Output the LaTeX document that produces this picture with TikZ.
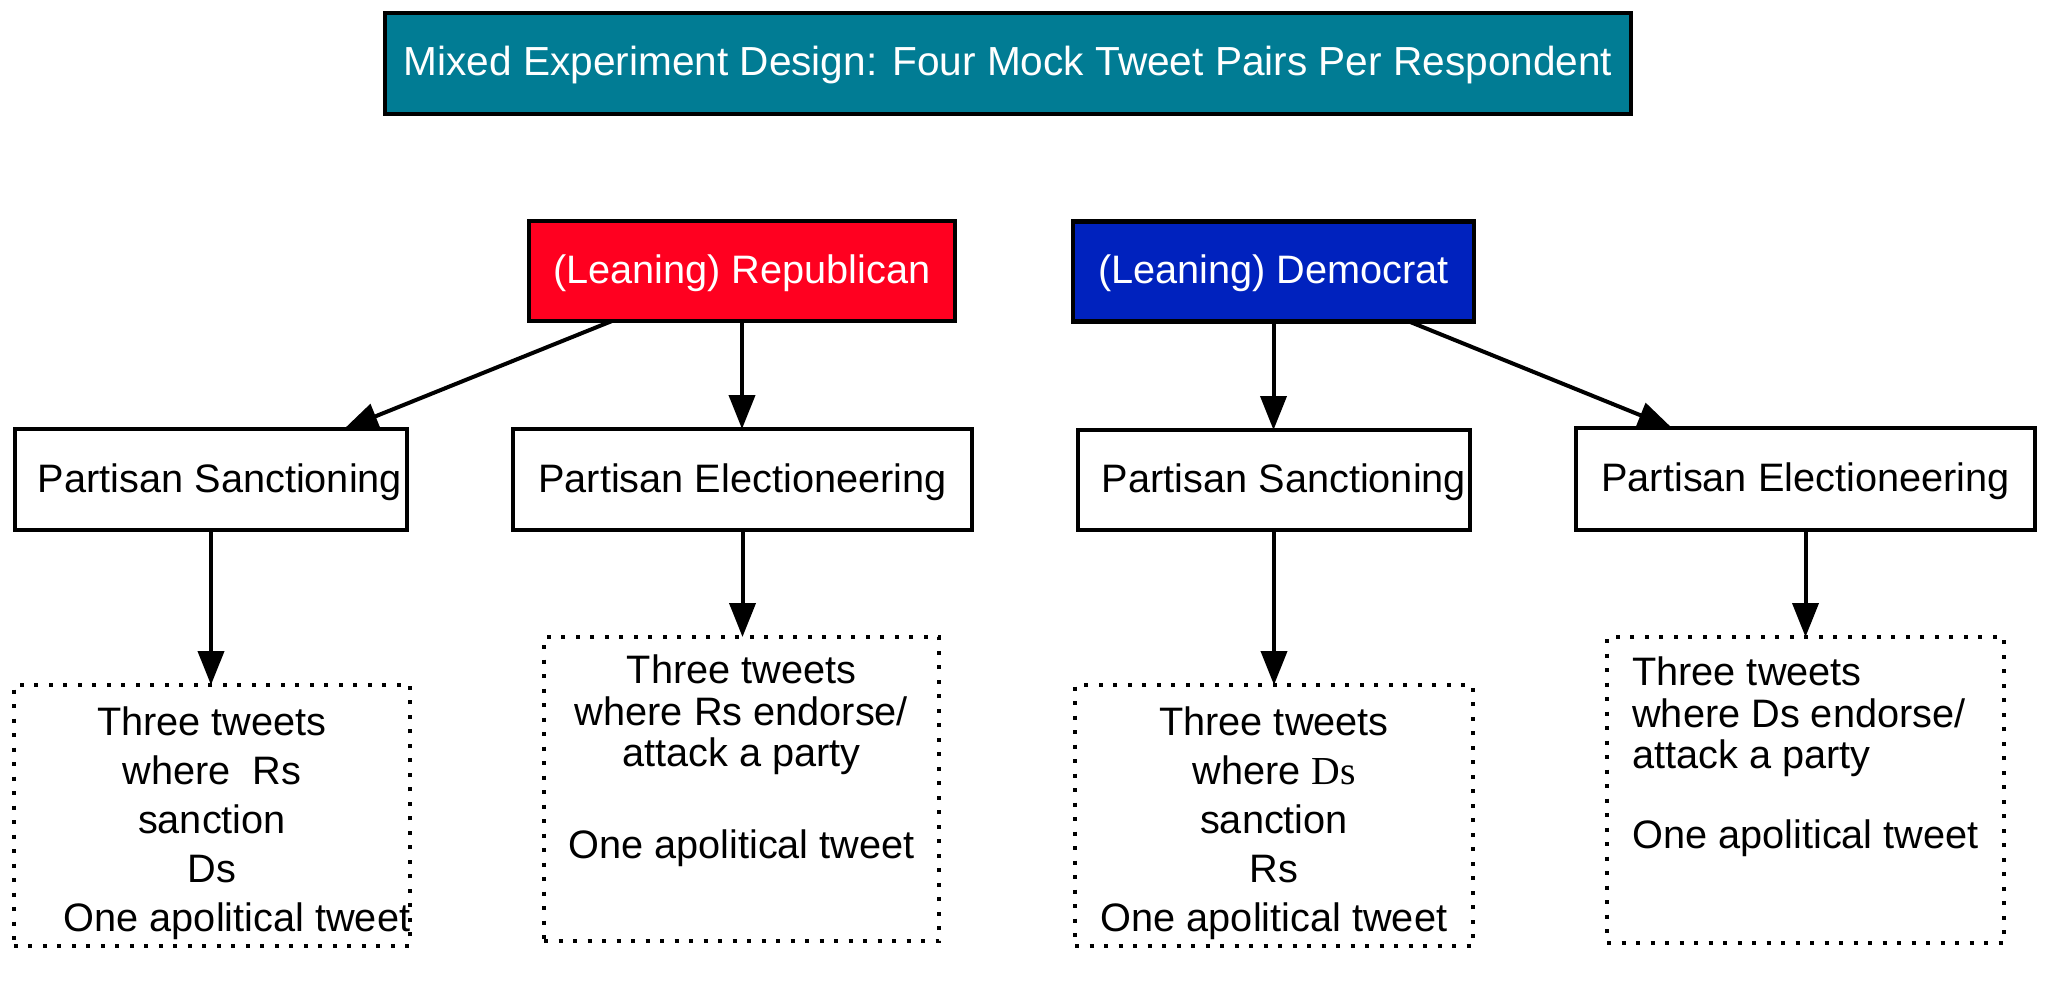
\documentclass[tikz,border=0pt]{standalone}
\usepackage{fontspec}
\setmainfont{Liberation Sans}
\newfontfamily\seriffam{Liberation Serif}
\usetikzlibrary{arrows.meta,calc}
\definecolor{titleteal}{RGB}{1,124,148}
\definecolor{repred}{RGB}{255,0,32}
\definecolor{demblue}{RGB}{0,34,190}
\begin{document}
\begin{tikzpicture}[x=1pt,y=-1pt,
  solidbox/.style={draw=black, line width=4.5pt, inner sep=0pt, outer sep=0pt,
    text height=29pt, text depth=4pt, font=\fontsize{39.7}{49}\selectfont},
  dotbox/.style={draw=black, line width=4.5pt, dash pattern=on 4pt off 10.5pt,
    inner sep=0pt, outer sep=0pt},
  conn/.style={line width=4pt, -{Triangle[length=34pt,width=26pt]}}
]
\useasboundingbox[fill=white] (0,0) rectangle (2048,1008);

\node[solidbox, fill=titleteal, text=white, minimum width=1246pt, minimum height=101pt,
  font=\fontsize{40.6}{49}\selectfont] (title) at (1008,63.5)
  {Mixed Experiment Design: Four Mock Tweet Pairs Per Respondent};

\node[solidbox, fill=repred, text=white, minimum width=426pt, minimum height=100pt] (rep) at (742,271)
  {(Leaning) Republican};
\node[solidbox, fill=demblue, text=white, minimum width=401pt, minimum height=100pt] (dem) at (1273.5,271.5)
  {(Leaning) Democrat};

\node[solidbox, fill=white, minimum width=392pt, minimum height=101pt] (ps1) at (211,479.5)
  {\hspace*{18pt}Partisan Sanctioning};
\node[solidbox, fill=white, minimum width=459pt, minimum height=101pt] (pe1) at (742.5,479.5)
  {Partisan Electioneering};
\node[solidbox, fill=white, minimum width=392pt, minimum height=100pt] (ps2) at (1274,480)
  {\hspace*{20pt}Partisan Sanctioning};
\node[solidbox, fill=white, minimum width=459pt, minimum height=102pt] (pe2) at (1805.5,479)
  {Partisan Electioneering};

\node[dotbox, minimum width=395pt, minimum height=261pt, font=\fontsize{39.7}{49}\selectfont] (b1) at (212,815.5)
  {\raisebox{-8.2pt}[\height][\depth]{\begin{tabular}{@{}c@{}}Three tweets\\ where~~Rs\\ sanction\\ Ds\\ \hspace*{50pt}One apolitical tweet\end{tabular}}};
\node[dotbox, minimum width=395pt, minimum height=304pt, font=\fontsize{39.7}{41}\selectfont] (b2) at (741.5,789)
  {\raisebox{26.2pt}[\height][\depth]{\begin{tabular}{@{}c@{}}Three tweets\\ where Rs endorse/\\ attack a party\\[51pt] One apolitical tweet\end{tabular}}};
\node[dotbox, minimum width=398pt, minimum height=261pt, font=\fontsize{39.7}{49}\selectfont] (b3) at (1274,815.5)
  {\raisebox{-8.2pt}[\height][\depth]{\begin{tabular}{@{}c@{}}Three tweets\\ where {\seriffam Ds}\\ sanction\\ Rs\\ One apolitical tweet\end{tabular}}};
\node[dotbox, minimum width=397pt, minimum height=306pt, font=\fontsize{39.7}{41}\selectfont] (b4) at (1805.5,790)
  {\raisebox{31.2pt}[\height][\depth]{\begin{tabular}{@{}l@{}}Three tweets\\ where Ds endorse/\\ attack a party\\[39pt] One apolitical tweet\end{tabular}}};

\draw[conn] ($(rep.south west)+(83,0)$) -- ($(ps1.north west)+(329,0)$);
\draw[conn] (rep.south) -- (rep.south |- pe1.north);
\draw[conn] (dem.south) -- (dem.south |- ps2.north);
\draw[conn] ($(dem.south west)+(336,0)$) -- ($(pe2.north west)+(96,0)$);
\draw[conn] (ps1.south) -- (ps1.south |- b1.north);
\draw[conn] (pe1.south) -- (pe1.south |- b2.north);
\draw[conn] (ps2.south) -- (ps2.south |- b3.north);
\draw[conn] (pe2.south) -- (pe2.south |- b4.north);
\end{tikzpicture}
\end{document}
